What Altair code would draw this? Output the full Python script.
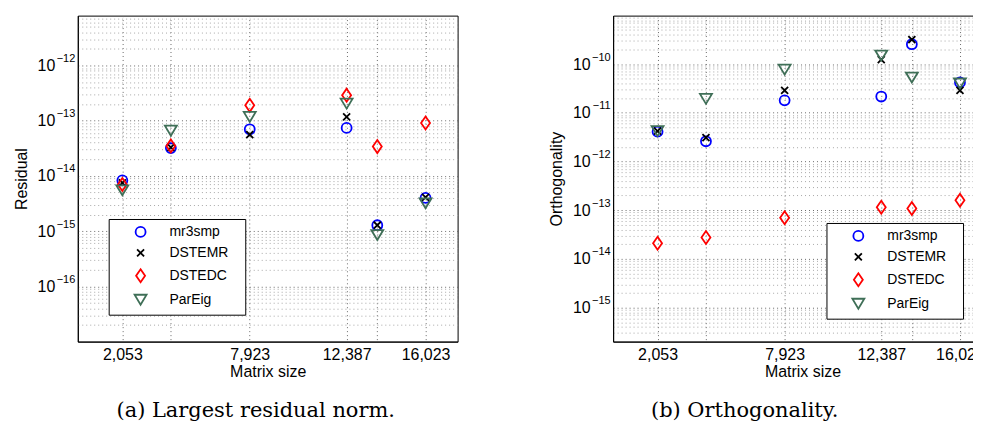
import altair as alt
import pandas as pd

series = ["mr3smp", "DSTEMR", "DSTEDC", "ParEig"]
colors = ["#0000ff", "#000000", "#ff0000", "#3f6f57"]
shapes = [
    "circle",
    "M-0.7,-0.7L0.7,0.7M-0.7,0.7L0.7,-0.7",
    "M0,-1.3L0.9,0L0,1.3L-0.9,0Z",
    "M-1.2,-1L1.2,-1L0,1Z",
]

sizes = [2053, 4289, 7923, 12387, 13800, 16023]
labeled_sizes = [2053, 7923, 12387, 16023]

# (a) Largest residual norm
res_mr3smp = [8.3e-15, 3.2e-14, 7.0e-14, 7.4e-14, 1.28e-15, 4.0e-15]
res_dstemr = [7.5e-15, 3.3e-14, 5.6e-14, 1.17e-13, 1.28e-15, 4.1e-15]
res_dstedc = [7.0e-15, 3.5e-14, 1.9e-13, 2.9e-13, 3.4e-14, 9.1e-14]
res_pareig = [5.5e-15, 6.6e-14, 1.17e-13, 2.04e-13, 8.5e-16, 3.2e-15]

# (b) Orthogonality
orth_mr3smp = [4.1e-12, 2.6e-12, 1.8e-11, 2.16e-11, 2.56e-10, 4.2e-11]
orth_dstemr = [4.2e-12, 3.1e-12, 2.9e-11, 1.23e-10, 3.2e-10, 2.9e-11]
orth_dstedc = [2.1e-14, 2.75e-14, 7.0e-14, 1.15e-13, 1.08e-13, 1.6e-13]
orth_pareig = [4.2e-12, 1.93e-11, 7.7e-11, 1.5e-10, 5.3e-11, 4.0e-11]


def frame(cols):
    rows = []
    for name, vals in zip(series, cols):
        for s, v in zip(sizes, vals):
            rows.append({"size": s, "value": v, "series": name})
    return pd.DataFrame(rows)


def exp_expr(exps):
    expr = "''"
    for e in exps:
        lo = f"{0.99 * 10.0 ** e:.4e}"
        hi = f"{1.01 * 10.0 ** e:.4e}"
        lab = str(e).replace("-", "\u2212")
        expr = f"(datum.value > {lo} && datum.value < {hi}) ? '{lab}' : {expr}"
    return expr


def minor_values(lo_exp, hi_exp, vmin, vmax):
    vals = []
    for k in range(lo_exp, hi_exp + 1):
        for m in range(2, 10):
            v = m * 10.0 ** k
            if vmin * 1.001 <= v <= vmax * 0.999:
                vals.append(v)
    return vals


FONT = "Liberation Sans"
PAD = "\u2800"
label_list = ",".join(str(s) for s in labeled_sizes)


def panel(df, ytitle, ydomain, decades, minor, lx, ly, caption, cap_dx, width):
    yscale = alt.Scale(type="log", domain=ydomain, nice=False)
    xscale = alt.Scale(domain=[0, 17500], nice=False, zero=False)
    dec_vals = [10.0 ** e for e in decades]
    legend = alt.Legend(
        title=None, orient="none", legendX=lx, legendY=ly,
        strokeColor="black", fillColor="white", padding=6, cornerRadius=0,
        labelFont=FONT, labelFontSize=14, labelColor="black",
        symbolOffset=19, labelOffset=22, rowPadding=4,
        symbolStrokeWidth=1.8, symbolSize=100,
        labelExpr=f"datum.label + '{PAD}'",
    )
    points = alt.Chart(df).mark_point(filled=False, strokeWidth=1.8, size=100, opacity=1).encode(
        x=alt.X("size:Q", scale=xscale,
                axis=alt.Axis(
                    values=sizes,
                    labelExpr=f"indexof([{label_list}], datum.value) >= 0 ? format(datum.value, ',') : ''",
                    labelOverlap=False, ticks=False, grid=True,
                    gridColor="#6a6a6a", gridDash=[1, 3],
                    labelFont=FONT, labelFontSize=16, labelColor="black", labelPadding=5,
                    title="Matrix size", titleFont=FONT, titleFontSize=16,
                    titleFontWeight="normal", titleColor="black", titlePadding=1,
                    domainColor="black")),
        y=alt.Y("value:Q", scale=yscale,
                axis=alt.Axis(
                    orient="left", values=dec_vals, labelExpr="'10'",
                    labelOverlap=False, ticks=False, grid=True,
                    gridColor="#6a6a6a", gridDash=[1, 3],
                    labelFont=FONT, labelFontSize=16, labelColor="black", labelPadding=23,
                    title=ytitle, titleFont=FONT, titleFontSize=16,
                    titleFontWeight="normal", titleColor="black", titlePadding=8,
                    domainColor="black")),
        color=alt.Color("series:N", scale=alt.Scale(domain=series, range=colors), legend=legend),
        shape=alt.Shape("series:N", scale=alt.Scale(domain=series, range=shapes), legend=legend),
    )
    exponents = alt.Chart(df).mark_point(opacity=0).encode(
        x=alt.X("size:Q", scale=xscale),
        y=alt.Y("value:Q", scale=yscale,
                axis=alt.Axis(
                    orient="left", values=dec_vals, labelExpr=exp_expr(decades),
                    labelOverlap=False, ticks=False, grid=False, domain=False,
                    labelFont=FONT, labelFontSize=11, labelColor="black",
                    labelPadding=3, labelOffset=-7, title=None)),
    )
    minor_grid = alt.Chart(df).mark_point(opacity=0).encode(
        x=alt.X("size:Q", scale=xscale),
        y=alt.Y("value:Q", scale=yscale,
                axis=alt.Axis(
                    orient="left", values=minor, labels=False, ticks=False,
                    domain=False, grid=True, gridColor="#a8a8a8", gridDash=[1, 3],
                    title=None)),
    )
    return alt.layer(points, exponents, minor_grid).resolve_axis(y="independent").properties(
        width=width, height=327,
        title=alt.TitleParams(caption, orient="bottom", anchor="middle", frame="group",
                              font="DejaVu Serif", fontSize=21, fontWeight="normal",
                              color="black", offset=21, dx=cap_dx),
    )


left = panel(frame([res_mr3smp, res_dstemr, res_dstedc, res_pareig]),
             "Residual", [1e-17, 8e-12], list(range(-16, -11)),
             minor_values(-17, -12, 1e-17, 8e-12),
             31, 204, "(a) Largest residual norm.", -12, 381)
right = panel(frame([orth_mr3smp, orth_dstemr, orth_dstedc, orth_pareig]),
              "Orthogonality", [2e-16, 9.9e-10], list(range(-15, -9)),
              minor_values(-16, -10, 2e-16, 9.9e-10),
              214, 208, "(b) Orthogonality.", -58, 380)

chart = alt.hconcat(left, right, spacing=89).resolve_scale(
    color="independent", shape="independent", x="independent", y="independent"
).configure(
    padding={"left": 4, "top": 6, "right": -20, "bottom": 0}
).configure_view(stroke="black", strokeWidth=1)

chart.save("out.html", embed_options={"renderer": "svg", "actions": False})
